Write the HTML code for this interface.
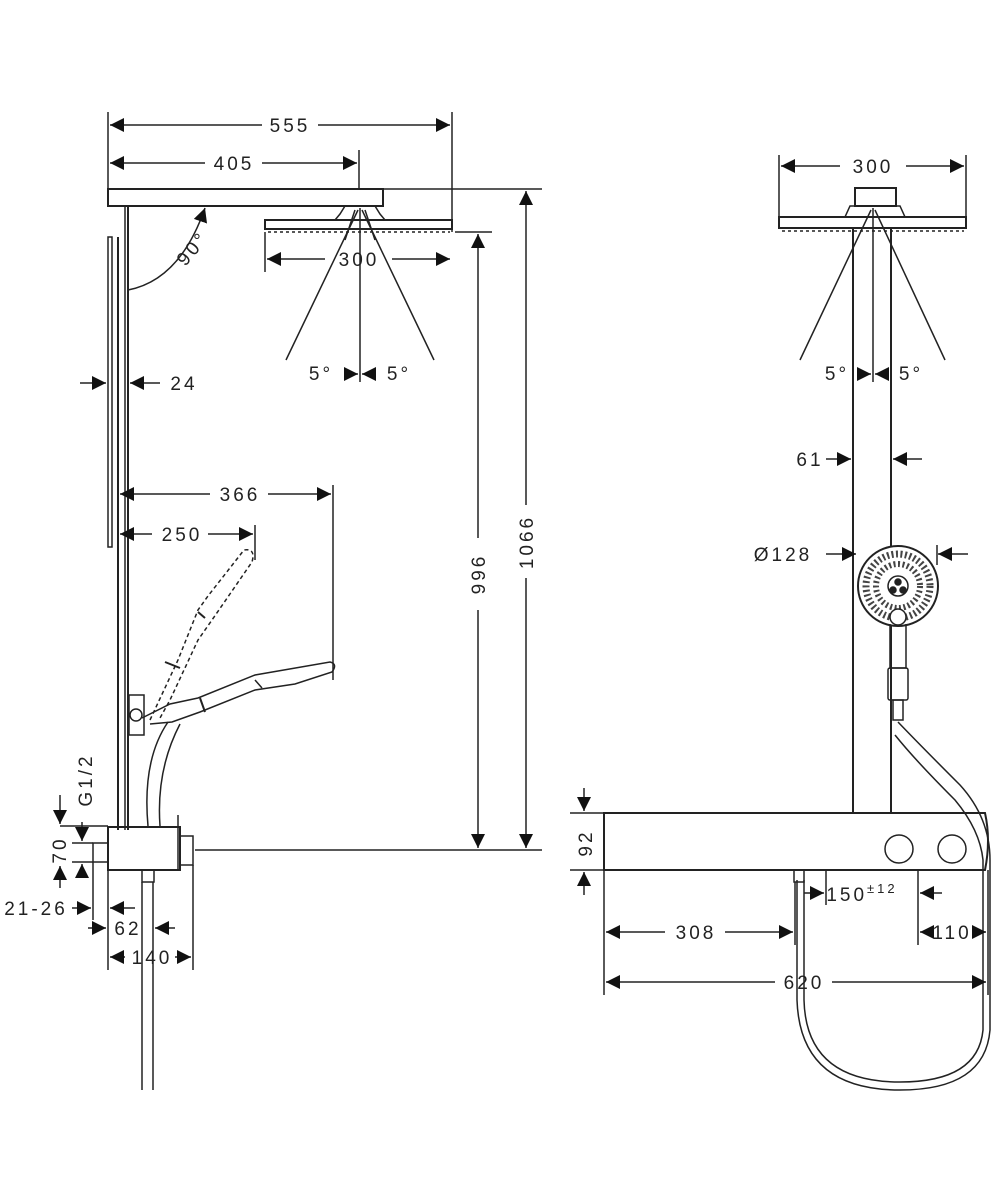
<!DOCTYPE html>
<html><head><meta charset="utf-8"><style>
html,body{margin:0;padding:0;background:#fff}
svg{display:block}
text{font-family:"Liberation Sans",sans-serif;font-size:19px;fill:#222;letter-spacing:3px}
</style></head><body>
<svg width="1000" height="1200" viewBox="0 0 1000 1200" xmlns="http://www.w3.org/2000/svg">
<defs>
<marker id="a" viewBox="0 0 10 10" refX="10" refY="5" markerWidth="14" markerHeight="14" markerUnits="userSpaceOnUse" orient="auto-start-reverse"><path d="M0,0 L10,5 L0,10z" fill="#111"/></marker>
</defs>
<g stroke="#222" stroke-width="1.5" fill="none">
<!-- LEFT VIEW -->
<line x1="108" y1="112" x2="108" y2="190"/>
<line x1="452" y1="112" x2="452" y2="232"/>
<line x1="359" y1="150" x2="359" y2="190"/>
<line x1="110" y1="125" x2="262" y2="125" marker-start="url(#a)"/>
<line x1="318" y1="125" x2="450" y2="125" marker-end="url(#a)"/>
<line x1="110" y1="163" x2="205" y2="163" marker-start="url(#a)"/>
<line x1="262" y1="163" x2="357" y2="163" marker-end="url(#a)"/>
<rect x="108" y="189" width="275" height="17" stroke-width="2"/>
<line x1="125" y1="206" x2="125" y2="830"/>
<line x1="118" y1="237" x2="118" y2="830" stroke-width="2"/>
<line x1="128" y1="206" x2="128" y2="830" stroke-width="2"/>
<rect x="108" y="237" width="4" height="310"/>
<path d="M345,206 L375,206 L380,214 L385,220 L335,220 L340,214z"/>
<rect x="265" y="220" width="187" height="9" stroke-width="2"/>
<line x1="268" y1="232" x2="450" y2="232" stroke-dasharray="3,3"/>
<line x1="265" y1="232" x2="265" y2="272"/>
<line x1="267" y1="259" x2="325" y2="259" marker-start="url(#a)"/>
<line x1="392" y1="259" x2="450" y2="259" marker-end="url(#a)"/>
<line x1="360" y1="208" x2="360" y2="382"/>
<line x1="358" y1="210" x2="286" y2="360"/>
<line x1="362" y1="210" x2="434" y2="360"/>
<line x1="345" y1="240" x2="355" y2="210"/>
<line x1="375" y1="240" x2="365" y2="210"/>
<line x1="344" y1="374" x2="358" y2="374" marker-end="url(#a)"/>
<line x1="376" y1="374" x2="362" y2="374" marker-end="url(#a)"/>
<path d="M128,290 Q180,280 205,208" marker-end="url(#a)"/>
<line x1="80" y1="383" x2="106" y2="383" marker-end="url(#a)"/>
<line x1="160" y1="383" x2="130" y2="383" marker-end="url(#a)"/>
<line x1="384" y1="189" x2="542" y2="189"/>
<line x1="455" y1="232" x2="492" y2="232"/>
<line x1="195" y1="850" x2="542" y2="850"/>
<line x1="478" y1="234" x2="478" y2="538" marker-start="url(#a)"/>
<line x1="478" y1="610" x2="478" y2="848" marker-end="url(#a)"/>
<line x1="526" y1="191" x2="526" y2="505" marker-start="url(#a)"/>
<line x1="526" y1="578" x2="526" y2="848" marker-end="url(#a)"/>
<line x1="333" y1="485" x2="333" y2="680"/>
<line x1="255" y1="525" x2="255" y2="560"/>
<line x1="120" y1="494" x2="210" y2="494" marker-start="url(#a)"/>
<line x1="268" y1="494" x2="331" y2="494" marker-end="url(#a)"/>
<line x1="120" y1="534" x2="152" y2="534" marker-start="url(#a)"/>
<line x1="208" y1="534" x2="253" y2="534" marker-end="url(#a)"/>
<path d="M150,720 L178,660 L198,610 L208,596 L244,550 Q256,548 252,562 L212,620 L198,640 L170,700 L160,718" stroke-dasharray="4,3"/>
<line x1="165" y1="662" x2="180" y2="668" stroke-width="2"/>
<line x1="198" y1="612" x2="205" y2="618" stroke-width="2"/>
<rect x="129" y="695" width="15" height="40"/>
<circle cx="136" cy="715" r="6"/>
<path d="M142,718 L170,704 L198,698 L255,675 L330,662 Q338,664 332,672 L295,684 L255,690 L200,712 L172,722 L150,724"/>
<line x1="200" y1="698" x2="205" y2="712" stroke-width="2"/>
<line x1="255" y1="680" x2="262" y2="688"/>
<path d="M148,826 Q142,760 168,722"/>
<path d="M160,826 Q156,770 180,724"/>
<rect x="108" y="827" width="72" height="43" stroke-width="2"/>
<rect x="93" y="843" width="15" height="19"/>
<rect x="180" y="836" width="13" height="29"/>
<line x1="178" y1="815" x2="178" y2="870"/>
<rect x="142" y="870" width="12" height="12"/>
<line x1="142" y1="882" x2="142" y2="1090"/>
<line x1="153" y1="882" x2="153" y2="1090"/>
<line x1="60" y1="826" x2="108" y2="826"/>
<line x1="72" y1="843" x2="93" y2="843"/>
<line x1="72" y1="862" x2="93" y2="862"/>
<line x1="60" y1="795" x2="60" y2="824" marker-end="url(#a)"/>
<line x1="60" y1="888" x2="60" y2="866" marker-end="url(#a)"/>
<line x1="82" y1="822" x2="82" y2="841" marker-end="url(#a)"/>
<line x1="82" y1="876" x2="82" y2="864" marker-end="url(#a)"/>
<line x1="93" y1="862" x2="93" y2="920"/>
<line x1="108" y1="870" x2="108" y2="970"/>
<line x1="193" y1="865" x2="193" y2="970"/>
<line x1="72" y1="908" x2="91" y2="908" marker-end="url(#a)"/>
<line x1="135" y1="908" x2="110" y2="908" marker-end="url(#a)"/>
<line x1="88" y1="928" x2="106" y2="928" marker-end="url(#a)"/>
<line x1="175" y1="928" x2="155" y2="928" marker-end="url(#a)"/>
<line x1="110" y1="957" x2="125" y2="957" marker-start="url(#a)"/>
<line x1="175" y1="957" x2="191" y2="957" marker-end="url(#a)"/>

<!-- RIGHT VIEW -->
<line x1="779" y1="155" x2="779" y2="228"/>
<line x1="966" y1="155" x2="966" y2="228"/>
<line x1="781" y1="166" x2="840" y2="166" marker-start="url(#a)"/>
<line x1="906" y1="166" x2="964" y2="166" marker-end="url(#a)"/>
<rect x="855" y="188" width="41" height="18" stroke-width="2"/>
<path d="M850,206 L900,206 L905,217 L845,217z"/>
<rect x="779" y="217" width="187" height="11" stroke-width="2"/>
<line x1="782" y1="231" x2="964" y2="231" stroke-dasharray="3,3"/>
<line x1="853" y1="228" x2="853" y2="813" stroke-width="2"/>
<line x1="891" y1="228" x2="891" y2="813" stroke-width="2"/>
<line x1="873" y1="208" x2="873" y2="382"/>
<line x1="871" y1="210" x2="800" y2="360"/>
<line x1="875" y1="210" x2="945" y2="360"/>
<line x1="858" y1="374" x2="871" y2="374" marker-end="url(#a)"/>
<line x1="888" y1="374" x2="875" y2="374" marker-end="url(#a)"/>
<line x1="826" y1="459" x2="851" y2="459" marker-end="url(#a)"/>
<line x1="922" y1="459" x2="893" y2="459" marker-end="url(#a)"/>
<line x1="826" y1="554" x2="856" y2="554" marker-end="url(#a)"/>
<line x1="968" y1="554" x2="938" y2="554" marker-end="url(#a)"/>
<line x1="937" y1="545" x2="937" y2="565"/>
<circle cx="898" cy="586" r="40" fill="#fff" stroke-width="2"/>
<circle cx="898" cy="586" r="32" stroke="#444" stroke-width="7" stroke-dasharray="2,2.5"/>
<circle cx="898" cy="586" r="22" stroke="#444" stroke-width="6" stroke-dasharray="2,2.5"/>
<circle cx="898" cy="586" r="10" fill="#fff"/>
<circle cx="898" cy="582" r="3" fill="#222"/>
<circle cx="893" cy="590" r="3" fill="#222"/>
<circle cx="903" cy="590" r="3" fill="#222"/>
<circle cx="898" cy="617" r="8" fill="#fff"/>
<path d="M890,624 L890,668 L906,668 L906,624"/>
<rect x="888" y="668" width="20" height="32" rx="2"/>
<rect x="893" y="700" width="10" height="20"/>
<path d="M898,722 Q920,745 960,785 Q990,818 990,860 L990,1030 Q985,1090 900,1090 Q800,1090 797,1000 L797,880"/>
<path d="M895,735 Q915,760 955,800 Q980,830 983,860 L983,1030 Q978,1082 900,1082 Q806,1082 804,1000 L804,880"/>
<path d="M604,813 L985,813 Q991,840 985,870 L604,870z" stroke-width="2"/>
<circle cx="899" cy="849" r="14"/>
<circle cx="952" cy="849" r="14"/>
<rect x="794" y="870" width="10" height="12"/>
<line x1="570" y1="813" x2="604" y2="813"/>
<line x1="570" y1="870" x2="604" y2="870"/>
<line x1="584" y1="788" x2="584" y2="811" marker-end="url(#a)"/>
<line x1="584" y1="895" x2="584" y2="872" marker-end="url(#a)"/>
<line x1="826" y1="870" x2="826" y2="905"/>
<line x1="918" y1="870" x2="918" y2="945"/>
<line x1="604" y1="870" x2="604" y2="995"/>
<line x1="795" y1="882" x2="795" y2="945"/>
<line x1="988" y1="870" x2="988" y2="995"/>
<line x1="804" y1="893" x2="824" y2="893" marker-end="url(#a)"/>
<line x1="942" y1="893" x2="920" y2="893" marker-end="url(#a)"/>
<line x1="606" y1="932" x2="665" y2="932" marker-start="url(#a)"/>
<line x1="725" y1="932" x2="793" y2="932" marker-end="url(#a)"/>
<line x1="920" y1="932" x2="933" y2="932" marker-start="url(#a)"/>
<line x1="972" y1="932" x2="986" y2="932" marker-end="url(#a)"/>
<line x1="606" y1="982" x2="775" y2="982" marker-start="url(#a)"/>
<line x1="832" y1="982" x2="986" y2="982" marker-end="url(#a)"/>
</g>
<g>
<text x="290" y="132" text-anchor="middle">555</text>
<text x="234" y="170" text-anchor="middle">405</text>
<text x="359" y="266" text-anchor="middle">300</text>
<text x="192" y="255" text-anchor="middle" transform="rotate(-50 192 248)">90°</text>
<text x="321" y="380" text-anchor="middle">5°</text>
<text x="399" y="380" text-anchor="middle">5°</text>
<text x="184" y="390" text-anchor="middle">24</text>
<text x="240" y="501" text-anchor="middle">366</text>
<text x="182" y="541" text-anchor="middle">250</text>
<text text-anchor="middle" transform="translate(485,574) rotate(-90)">996</text>
<text text-anchor="middle" transform="translate(533,542) rotate(-90)">1066</text>
<text text-anchor="middle" transform="translate(92,780) rotate(-90)">G1/2</text>
<text text-anchor="middle" transform="translate(66,850) rotate(-90)">70</text>
<text x="36" y="915" text-anchor="middle">21-26</text>
<text x="128" y="935" text-anchor="middle">62</text>
<text x="152" y="964" text-anchor="middle">140</text>
<text x="873" y="173" text-anchor="middle">300</text>
<text x="837" y="380" text-anchor="middle">5°</text>
<text x="911" y="380" text-anchor="middle">5°</text>
<text x="810" y="466" text-anchor="middle">61</text>
<text x="783" y="561" text-anchor="middle">Ø128</text>
<text text-anchor="middle" transform="translate(592,843) rotate(-90)">92</text>
<text x="862" y="901" text-anchor="middle">150<tspan font-size="13" dy="-8">±12</tspan></text>
<text x="696" y="939" text-anchor="middle">308</text>
<text x="952" y="939" text-anchor="middle">110</text>
<text x="804" y="989" text-anchor="middle">620</text>
</g>
</svg>
</body></html>
